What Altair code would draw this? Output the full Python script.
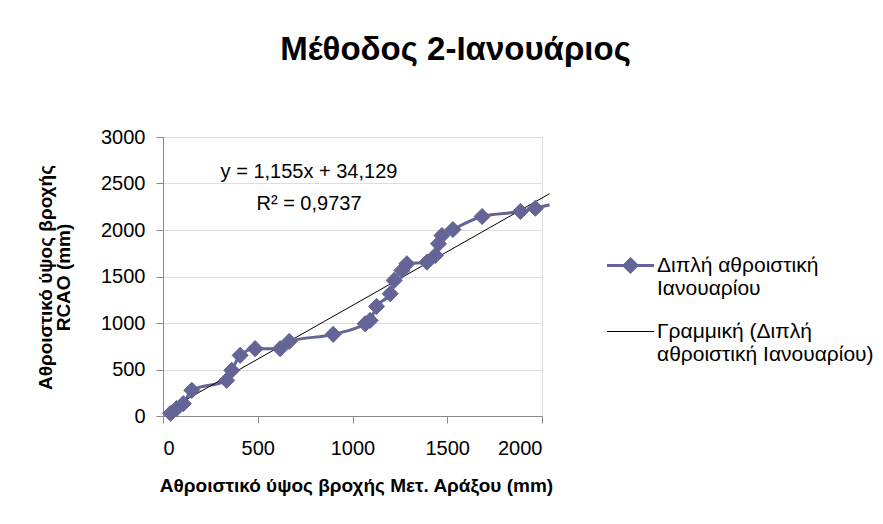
import altair as alt
import pandas as pd

# ---- data ----
x_vals = [40, 72, 107, 152, 336, 363, 407, 486, 618, 666, 898, 1067, 1093, 1127,
          1199, 1220, 1261, 1287, 1393, 1437, 1454, 1472, 1530, 1684, 1886, 1965, 2040]
y_vals = [29, 80, 133, 276, 383, 491, 652, 724, 724, 802, 878, 992, 1028, 1178,
          1315, 1458, 1565, 1637, 1654, 1726, 1852, 1941, 2005, 2145, 2199, 2234, 2270]

S1 = "Διπλή αθροιστική Ιανουαρίου"
S2 = "Γραμμική (Διπλή αθροιστική Ιανουαρίου)"
S1_lines = ["Διπλή αθροιστική", "Ιανουαρίου"]
S2_lines = ["Γραμμική (Διπλή", "αθροιστική Ιανουαρίου)"]

slope, intercept = 1.155, 34.129
trend_x = [40, 2040]

title_text = "Μέθοδος 2-Ιανουάριος"
x_title = "Αθροιστικό ύψος βροχής Μετ. Αράξου (mm)"
y_title = ["Αθροιστικό ύψος βροχής", "RCAO (mm)"]
eq_text = "y = 1,155x + 34,129"
r2_text = "R² = 0,9737"
x_ticks = [0, 500, 1000, 1500, 2000]
y_ticks = [0, 500, 1000, 1500, 2000, 2500, 3000]

FONT = "Liberation Sans"
SERIES_COLOR = "#646496"

df = pd.DataFrame({"x": x_vals, "y": y_vals, "series": S1})
tdf = pd.DataFrame({"x": trend_x})
tdf["y"] = slope * tdf["x"] + intercept
tdf["series"] = S2

xs = alt.Scale(domain=[0, 2000], nice=False)
ys = alt.Scale(domain=[0, 3000], nice=False)

color_scale = alt.Scale(domain=[S1, S2], range=[SERIES_COLOR, "#000000"])
shape_scale = alt.Scale(domain=[S1, S2],
                        range=["M-2,0H2M-0.55,0L0,-0.55L0.55,0L0,0.55Z", "M-2,0H2"])
sw_scale = alt.Scale(domain=[S1, S2], range=[3, 1])

X = alt.X("x:Q", scale=xs, axis=alt.Axis(
    values=x_ticks, format="d", grid=False, title=x_title, titleFontSize=19,
    titleFont=FONT, titleFontWeight="bold", titleX=193, titleY=75,
    titleAlign="center", titleBaseline="alphabetic", labelFontSize=20,
    labelFont=FONT, labelPadding=15, tickSize=7, labelColor="#000000",
    titleColor="#000000"))
Y = alt.Y("y:Q", scale=ys, axis=alt.Axis(
    values=y_ticks, format="d", grid=True, title=y_title, titleFontSize=19,
    titleFont=FONT, titleFontWeight="bold", titleAngle=270, titleX=-112,
    titleY=140, titleAlign="center", titleBaseline="alphabetic",
    titleLineHeight=18, labelFontSize=20, labelFont=FONT, labelPadding=11,
    tickSize=7, labelColor="#000000", titleColor="#000000"))

label_expr = ("datum.label == '%s' ? ['%s', '%s'] : ['%s', '%s']"
              % (S1, S1_lines[0], S1_lines[1], S2_lines[0], S2_lines[1]))
leg = alt.Legend(
    title=None, orient="none", legendX=454, legendY=115,
    symbolSize=552, labelOffset=13, labelFontSize=21, labelFont=FONT,
    labelLimit=0, labelColor="#000000", symbolOpacity=1, rowPadding=20,
    labelExpr=label_expr)

line = alt.Chart(df).mark_line(
    interpolate="monotone", strokeWidth=3, clip=False, color=SERIES_COLOR).encode(x=X, y=Y)
pts = alt.Chart(df).transform_filter("datum.x <= 2000").mark_point(
    shape="diamond", filled=True, size=260, opacity=1, color=SERIES_COLOR,
    stroke=SERIES_COLOR, strokeWidth=1).encode(x=X, y=Y)
trend = alt.Chart(tdf).mark_line(strokeWidth=1, clip=False, color="#000000").encode(x=X, y=Y)

carrier_df = pd.concat([df.head(1), tdf.head(1)])
carrier = alt.Chart(carrier_df).mark_point(filled=True, opacity=0).encode(
    x=X, y=Y,
    color=alt.Color("series:N", scale=color_scale, legend=leg),
    stroke=alt.Stroke("series:N", scale=color_scale, legend=leg),
    shape=alt.Shape("series:N", scale=shape_scale, legend=leg),
    strokeWidth=alt.StrokeWidth("series:N", scale=sw_scale, legend=leg))

eq = alt.Chart(df.head(1)).mark_text(
    text=eq_text, font=FONT, fontSize=20, align="center", baseline="alphabetic",
    color="#000000").encode(x=alt.value(146), y=alt.value(41))
r2 = alt.Chart(df.head(1)).mark_text(
    text=r2_text, font=FONT, fontSize=20, align="center", baseline="alphabetic",
    color="#000000").encode(x=alt.value(146), y=alt.value(73))

chart = alt.layer(line, trend, pts, carrier, eq, r2).properties(
    width=379, height=279,
    autosize=alt.AutoSizeParams(type="none"),
    padding={"left": 155, "top": 129, "right": 333, "bottom": 95},
    title=alt.TitleParams(title_text, fontSize=33, font=FONT, fontWeight="bold",
                          anchor="middle", dx=103, offset=60, color="#000000"),
).configure_view(stroke=None).configure_axis(
    gridColor="#8c8c8c", domainColor="#a6a6a6", tickColor="#a6a6a6",
    gridWidth=1, domainWidth=1).configure(background="white")

chart.save("out.html", embed_options={"renderer": "svg", "actions": False})
